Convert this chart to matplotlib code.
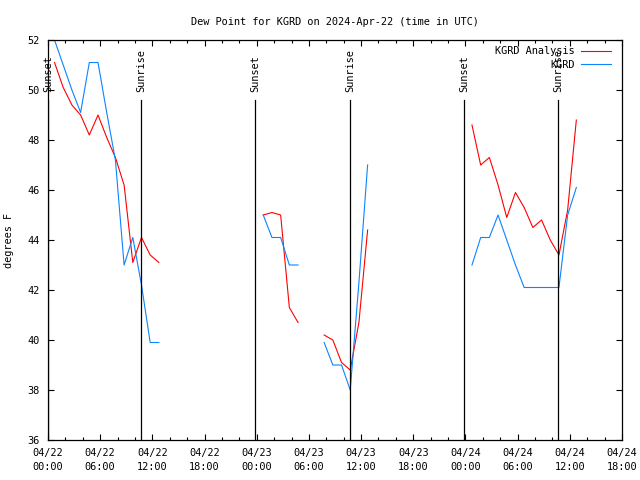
import matplotlib
matplotlib.use("Agg")
import matplotlib.pyplot as plt
import numpy as np
from datetime import datetime, timedelta

# === data (hours since 2024-04-22 00:00 UTC) ===
seg_hours = [
    [0.75, 1.75, 2.75, 3.75, 4.75, 5.75, 6.75, 7.75, 8.75, 9.75, 10.75, 11.75, 12.75],
    [24.75, 25.75, 26.75, 27.75, 28.75],
    [31.75, 32.75, 33.75, 34.75, 35.75, 36.75],
    [48.75, 49.75, 50.75, 51.75, 52.75, 53.75, 54.75, 55.75, 56.75, 57.75, 58.75, 59.75, 60.75],
]
analysis_dewpt = [
    [51.1, 50.1, 49.4, 49.0, 48.2, 49.0, 48.1, 47.3, 46.2, 43.1, 44.1, 43.4, 43.1],
    [45.0, 45.1, 45.0, 41.3, 40.7],
    [40.2, 40.0, 39.1, 38.8, 40.7, 44.4],
    [48.6, 47.0, 47.3, 46.2, 44.9, 45.9, 45.3, 44.5, 44.8, 44.0, 43.4, 45.2, 48.8],
]
obs_dewpt = [
    [52.0, 51.0, 50.0, 49.1, 51.1, 51.1, 49.1, 47.2, 43.0, 44.1, 42.2, 39.9, 39.9],
    [45.0, 44.1, 44.1, 43.0, 43.0],
    [39.9, 39.0, 39.0, 38.0, 42.3, 47.0],
    [43.0, 44.1, 44.1, 45.0, 44.0, 43.0, 42.1, 42.1, 42.1, 42.1, 42.1, 45.0, 46.1],
]
sunset_hours = [0.0, 23.85, 47.87]
sunrise_hours = [10.69, 34.72, 58.68]

START = datetime(2024, 4, 22, 0, 0)
FONT = "DejaVu Sans Mono"
FS = 7.4

plt.rcParams["font.family"] = FONT
plt.rcParams["font.size"] = FS

fig = plt.figure(figsize=(6.4, 4.8), dpi=100)
ax = fig.add_axes([48 / 640, 40 / 480, 574 / 640, 400 / 480])

for i, (h, a, o) in enumerate(zip(seg_hours, analysis_dewpt, obs_dewpt)):
    ax.plot(h, a, color="#ff0000", lw=0.8, label="KGRD Analysis" if i == 0 else None)
    ax.plot(h, o, color="#0a84ff", lw=0.8, label="KGRD" if i == 0 else None)

# sunrise / sunset markers
for h in sunset_hours:
    ax.axvline(h, ymax=0.85, color="black", lw=0.9)
    ax.text(h, 49.9, "Sunset", rotation=90, ha="center", va="bottom")
for h in sunrise_hours:
    ax.axvline(h, ymax=0.85, color="black", lw=0.9)
    ax.text(h, 49.9, "Sunrise", rotation=90, ha="center", va="bottom")

ax.set_xlim(0, 66)
ax.set_ylim(36, 52)
ax.set_yticks(np.arange(36, 53, 2))
major = np.arange(0, 67, 6)
ax.set_xticks(major)
ax.set_xticks(np.arange(0, 67, 2), minor=True)
ax.set_xticklabels([(START + timedelta(hours=float(h))).strftime("%m/%d\n%H:%M") for h in major],
                   linespacing=1.5)

ax.tick_params(which="both", direction="in", top=True, right=True, width=0.8)
ax.tick_params(which="major", length=4.5, pad=6)
ax.tick_params(which="minor", length=2.2)
for s in ax.spines.values():
    s.set_linewidth(0.9)

ax.set_ylabel("degrees F", labelpad=10)
ax.set_title("Dew Point for KGRD on 2024-Apr-22 (time in UTC)", pad=11, fontsize=FS)

leg = ax.legend(loc="upper right", bbox_to_anchor=(0.991, 1.0), frameon=False, markerfirst=False,
                handlelength=2.9, handletextpad=0.6, labelspacing=0.35, borderaxespad=0.2)

fig.savefig("out.png", dpi=100)
